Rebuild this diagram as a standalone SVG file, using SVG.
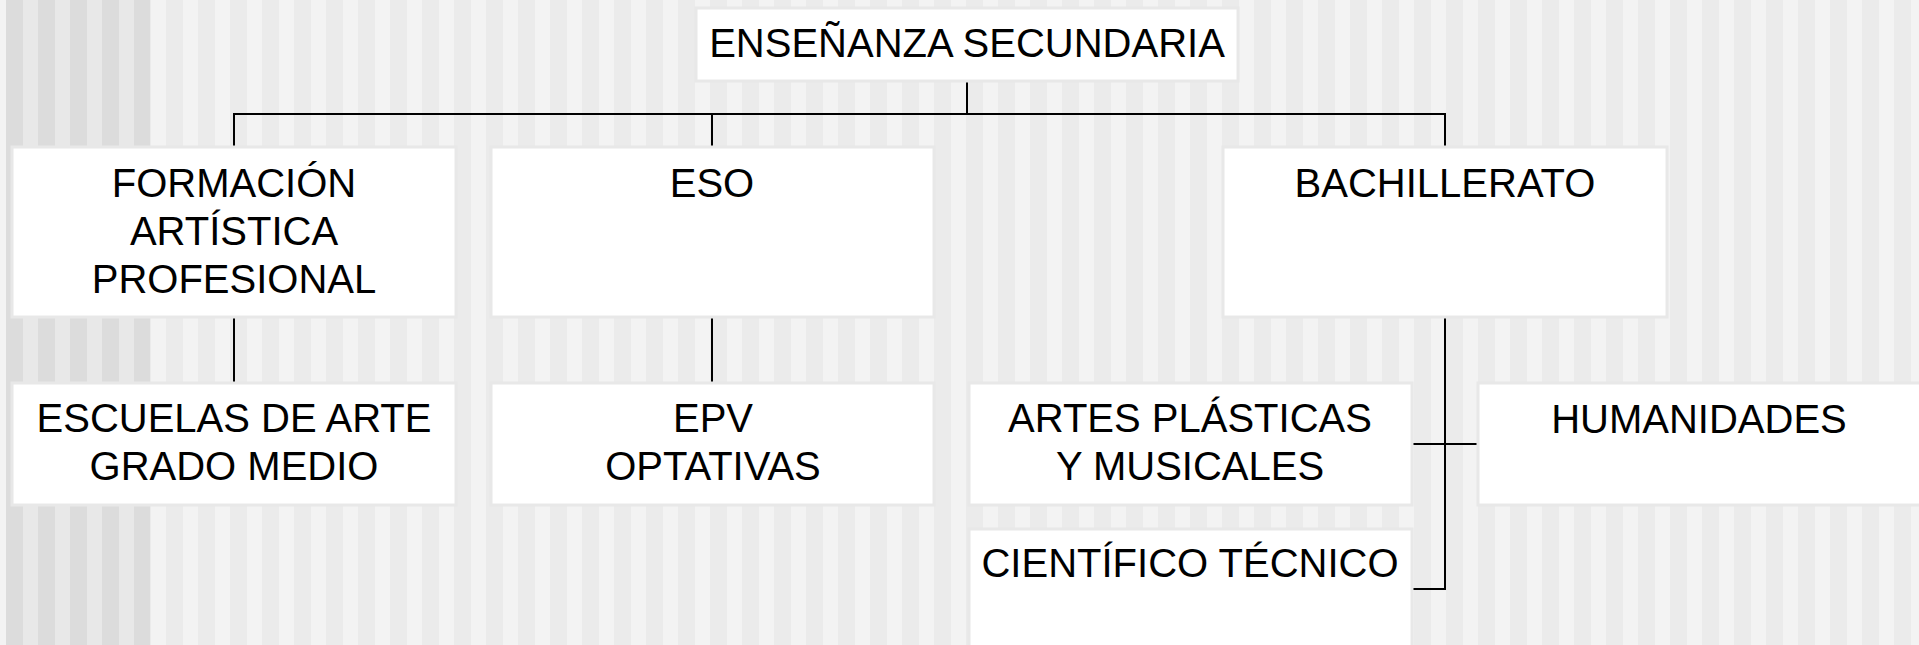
<svg xmlns="http://www.w3.org/2000/svg" width="1919" height="645" viewBox="0 0 1919 645">
  <style>
    .box { fill: #ffffff; stroke: #e8e8e8; stroke-width: 3; }
    .lbl { font-family: "Liberation Sans", Arial, sans-serif; font-size: 40px; fill: #000000; text-anchor: middle; }
    .con { stroke: #000000; stroke-width: 2; fill: none; }
  </style>
  <defs>
    <pattern id="stripesLight" patternUnits="userSpaceOnUse" x="6" y="0" width="32" height="20">
      <rect x="0" y="0" width="32" height="20" fill="#f3f3f3"/>
      <rect x="0" y="0" width="17" height="20" fill="#ebebeb"/>
    </pattern>
    <pattern id="stripesDark" patternUnits="userSpaceOnUse" x="6" y="0" width="32" height="20">
      <rect x="0" y="0" width="32" height="20" fill="#e8e8e8"/>
      <rect x="0" y="0" width="17" height="20" fill="#dcdcdc"/>
    </pattern>
  </defs>

  <g id="background">
    <rect x="0" y="0" width="1919" height="645" fill="#f3f3f3"/>
    <rect x="150" y="0" width="1769" height="645" fill="url(#stripesLight)"/>
    <rect x="6" y="0" width="144" height="645" fill="url(#stripesDark)"/>
  </g>

  <g id="connectors">
    <line class="con" x1="967" y1="82" x2="967" y2="114"/>
    <line class="con" x1="233" y1="114" x2="1446" y2="114"/>
    <line class="con" x1="234" y1="114" x2="234" y2="146"/>
    <line class="con" x1="712" y1="114" x2="712" y2="146"/>
    <line class="con" x1="1445" y1="113" x2="1445" y2="146"/>
    <line class="con" x1="234" y1="318" x2="234" y2="382"/>
    <line class="con" x1="712" y1="318" x2="712" y2="382"/>
    <line class="con" x1="1445" y1="318" x2="1445" y2="590"/>
    <line class="con" x1="1413" y1="444" x2="1477" y2="444"/>
    <line class="con" x1="1413" y1="589" x2="1446" y2="589"/>
  </g>

  <g id="node-ensenanza">
    <rect class="box" x="696" y="8" width="542" height="73"/>
    <text class="lbl" x="967" y="57">ENSEÑANZA SECUNDARIA</text>
  </g>

  <g id="node-formacion">
    <rect class="box" x="12" y="147" width="444" height="170"/>
    <text class="lbl" x="234" y="197">FORMACIÓN</text>
    <text class="lbl" x="234" y="245">ARTÍSTICA</text>
    <text class="lbl" x="234" y="293">PROFESIONAL</text>
  </g>

  <g id="node-eso">
    <rect class="box" x="491" y="147" width="443" height="170"/>
    <text class="lbl" x="712" y="197">ESO</text>
  </g>

  <g id="node-bachillerato">
    <rect class="box" x="1223" y="147" width="444" height="170"/>
    <text class="lbl" x="1445" y="197">BACHILLERATO</text>
  </g>

  <g id="node-escuelas">
    <rect class="box" x="12" y="383" width="444" height="122"/>
    <text class="lbl" x="234" y="432">ESCUELAS DE ARTE</text>
    <text class="lbl" x="234" y="480">GRADO MEDIO</text>
  </g>

  <g id="node-epv">
    <rect class="box" x="491" y="383" width="443" height="122"/>
    <text class="lbl" x="713" y="432">EPV</text>
    <text class="lbl" x="713" y="480">OPTATIVAS</text>
  </g>

  <g id="node-artes">
    <rect class="box" x="969" y="383" width="443" height="122"/>
    <text class="lbl" x="1190" y="432">ARTES PLÁSTICAS</text>
    <text class="lbl" x="1190" y="480">Y MUSICALES</text>
  </g>

  <g id="node-humanidades">
    <rect class="box" x="1478" y="383" width="450" height="122"/>
    <text class="lbl" x="1699" y="433">HUMANIDADES</text>
  </g>

  <g id="node-cientifico">
    <rect class="box" x="969" y="529" width="443" height="130"/>
    <text class="lbl" x="1190" y="577">CIENTÍFICO TÉCNICO</text>
  </g>
</svg>
